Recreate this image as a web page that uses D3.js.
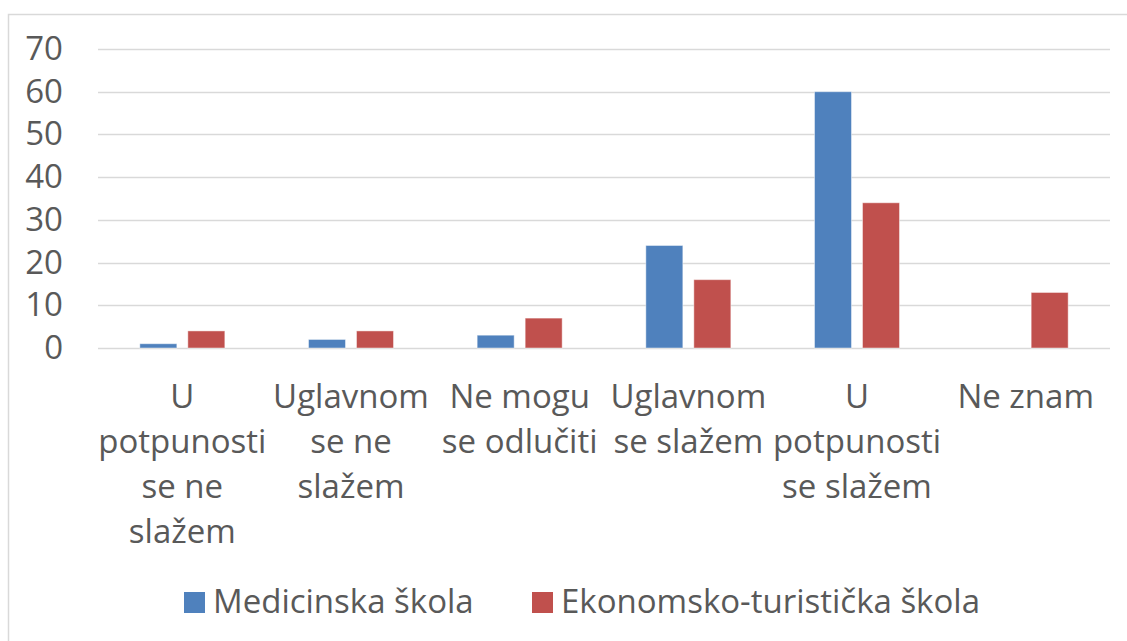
<!DOCTYPE html>
<html>
<head>
<meta charset="utf-8">
<script src="https://cdn.jsdelivr.net/npm/d3@7"></script>
<style>
  body { margin: 0; background: #fff; }
  text { font-family: "Open Sans", sans-serif; fill: #595959; }
</style>
</head>
<body>
<div id="chart"></div>
<script>
// data
let categories = ["c1", "c2", "c3", "c4", "c5", "c6"];
let categoryLines = [
  ["U", "potpunosti", "se ne", "slažem"],
  ["Uglavnom", "se ne", "slažem"],
  ["Ne mogu", "se odlučiti"],
  ["Uglavnom", "se slažem"],
  ["U", "potpunosti", "se slažem"],
  ["Ne znam"]
];
let seriesNames = ["Medicinska škola", "Ekonomsko-turistička škola"];
let medicinska = [1, 2, 3, 24, 60, 0];
let ekonomska = [4, 4, 7, 16, 34, 13];
let yTicks = [0, 10, 20, 30, 40, 50, 60, 70];
let colors = ["#4f81bd", "#c0504d"];

let width = 1127, height = 641;
let margin = { left: 98, right: 17, top: 49, bottom: 293 };

let svg = d3.select("#chart").append("svg")
  .attr("width", width)
  .attr("height", height);

// outer chart border (only top / left visible in the crop)
svg.append("rect")
  .attr("x", 8.5).attr("y", 14.5)
  .attr("width", 1200).attr("height", 800)
  .attr("fill", "none")
  .attr("stroke", "#d9d9d9")
  .attr("stroke-width", 1.5);

let x = d3.scaleBand()
  .domain(categories)
  .range([margin.left, width - margin.right]);

let y = d3.scaleLinear()
  .domain([0, 70])
  .range([height - margin.bottom, margin.top]);

// gridlines
svg.append("g")
  .selectAll("line")
  .data(yTicks)
  .join("line")
  .attr("x1", margin.left)
  .attr("x2", width - margin.right)
  .attr("y1", d => Math.round(y(d)) + 0.5)
  .attr("y2", d => Math.round(y(d)) + 0.5)
  .attr("stroke", "#d9d9d9")
  .attr("stroke-width", 1.5);

// y axis labels
let yAxis = svg.append("g")
  .attr("transform", `translate(${margin.left - 35},0)`)
  .call(d3.axisLeft(y).tickValues(yTicks).tickSize(0).tickPadding(0));
yAxis.select(".domain").remove();
yAxis.selectAll("text")
  .attr("font-size", 33)
  .attr("font-family", "Open Sans, sans-serif")
  .attr("fill", "#595959");

// bars
let barW = 37, gap = 11;
let series = [medicinska, ekonomska];
series.forEach(function (vals, si) {
  svg.append("g")
    .selectAll("rect")
    .data(vals)
    .join("rect")
    .attr("x", (d, i) => x(categories[i]) + x.bandwidth() / 2 - (barW + gap / 2) + si * (barW + gap))
    .attr("y", d => y(d))
    .attr("width", barW)
    .attr("height", d => y(0) - y(d))
    .attr("fill", colors[si])
    .attr("stroke", d => d > 0 ? "rgba(255,255,255,0.45)" : "none")
    .attr("stroke-width", 1);
});

// category labels
let catG = svg.append("g");
categories.forEach(function (c, i) {
  let t = catG.append("text")
    .attr("text-anchor", "middle")
    .attr("font-size", 33)
    .attr("x", x(c) + x.bandwidth() / 2)
    .attr("y", 408);
  categoryLines[i].forEach(function (line, li) {
    t.append("tspan")
      .attr("x", x(c) + x.bandwidth() / 2)
      .attr("y", 408 + li * 45)
      .text(line);
  });
});

// legend
let legend = svg.append("g");
let lx = [184, 532];
seriesNames.forEach(function (name, i) {
  legend.append("rect")
    .attr("x", lx[i]).attr("y", 592)
    .attr("width", 21).attr("height", 21)
    .attr("fill", colors[i]);
  legend.append("text")
    .attr("x", lx[i] + 29)
    .attr("y", 613)
    .attr("font-size", 33)
    .text(name);
});
</script>
</body>
</html>
